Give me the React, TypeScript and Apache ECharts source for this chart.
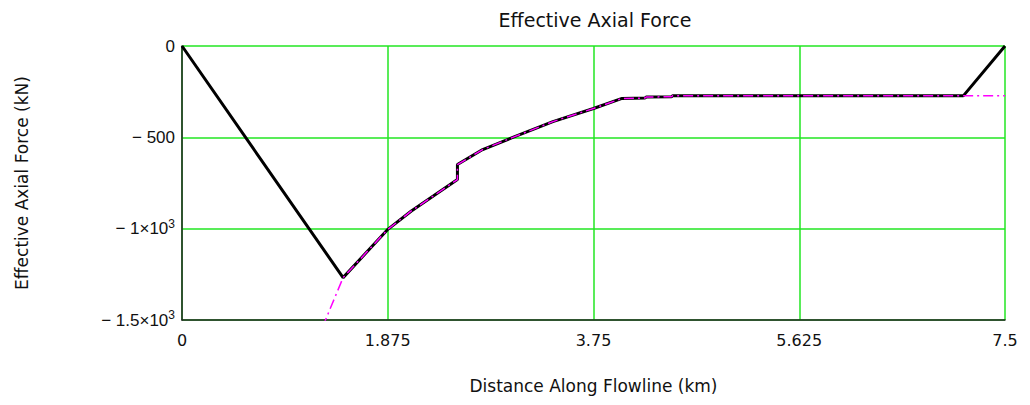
import React, { useEffect, useRef } from "react";
import * as echarts from "echarts";

const titleText = "Effective Axial Force";
const xAxisName = "Distance Along Flowline (km)";
const yAxisName = "Effective Axial Force (kN)";

const xTicks = [0, 1.875, 3.75, 5.625, 7.5];
const yTicks = [0, -500, -1000, -1500];
const yTickLabels = ["0", "− 500", "− 1×10{s|3}", "− 1.5×10{s|3}"];

// Effective axial force (black solid)
const forceX = [0, 1.468, 1.87, 2.09, 2.51, 2.51, 2.74, 3.02, 3.38, 3.75, 4.01, 4.22, 4.23, 4.46, 4.47, 7.12, 7.5];
const forceY = [0, -1268, -1007, -903, -731, -649, -567, -499, -414, -342, -287, -285, -279, -278, -273, -273, 0];

// Reference curve (magenta dash-dot)
const refX = [1.28, 1.468, 1.87, 2.09, 2.51, 2.51, 2.74, 3.02, 3.38, 3.75, 4.01, 4.22, 4.23, 4.46, 4.47, 7.5];
const refY = [-1540, -1268, -1007, -903, -731, -649, -567, -499, -414, -342, -287, -285, -279, -278, -273, -273];

const labelFont = "Liberation Sans";
const textFont = "DejaVu Sans";

export default function App() {
  const ref = useRef<HTMLDivElement>(null);
  useEffect(() => {
    if (!ref.current) return;
    const chart = echarts.init(ref.current, null, { renderer: "svg" });
    const green = "#22e622";
    chart.setOption({
      animation: false,
      backgroundColor: "#ffffff",
      title: {
        text: titleText,
        left: 590,
        top: 5,
        textAlign: "center",
        textStyle: { fontFamily: textFont, fontSize: 19, fontWeight: "normal", color: "#111" },
      },
      grid: { left: 182, right: 25, top: 46, bottom: 85, containLabel: false },
      xAxis: {
        type: "value",
        min: xTicks[0],
        max: xTicks[xTicks.length - 1],
        interval: xTicks[1] - xTicks[0],
        name: xAxisName,
        nameLocation: "middle",
        nameGap: 57,
        nameTextStyle: { fontFamily: textFont, fontSize: 17, color: "#111" },
        axisLine: { show: true, onZero: false, lineStyle: { color: "#222", width: 1.5 } },
        axisTick: { show: false },
        axisLabel: {
          fontFamily: textFont,
          fontSize: 16,
          color: "#111",
          margin: 12,
          formatter: (v: number) => String(v),
        },
        splitLine: { show: true, lineStyle: { color: green, width: 1.5 } },
      },
      yAxis: {
        type: "value",
        min: yTicks[yTicks.length - 1],
        max: yTicks[0],
        interval: 500,
        name: yAxisName,
        nameLocation: "middle",
        nameGap: 152,
        nameRotate: 90,
        nameTextStyle: { fontFamily: textFont, fontSize: 17, color: "#111" },
        axisLine: { show: true, onZero: false, lineStyle: { color: "#222", width: 1.5 } },
        axisTick: { show: false },
        axisLabel: {
          fontFamily: labelFont,
          fontSize: 17,
          color: "#111",
          margin: 7,
          formatter: (v: number) => {
            const i = yTicks.indexOf(v);
            return i >= 0 ? yTickLabels[i] : String(v);
          },
          rich: {
            s: { fontFamily: labelFont, fontSize: 12, color: "#111", padding: [0, 0, 10, 0] },
          },
        },
        splitLine: { show: true, lineStyle: { color: green, width: 1.5 } },
      },
      series: [
        {
          type: "line",
          data: forceX.map((x, i) => [x, forceY[i]]),
          showSymbol: false,
          clip: false,
          lineStyle: { color: "#000000", width: 3 },
          z: 3,
        },
        {
          type: "line",
          data: refX.map((x, i) => [x, refY[i]]),
          showSymbol: false,
          clip: true,
          lineStyle: { color: "#ff00ff", width: 1.5, type: [10, 4, 2, 4] },
          z: 4,
        },
      ],
    });
    return () => chart.dispose();
  }, []);
  return (
    <div
      ref={ref}
      style={{ position: "fixed", left: 0, top: 0, width: 1030, height: 405 }}
    />
  );
}
